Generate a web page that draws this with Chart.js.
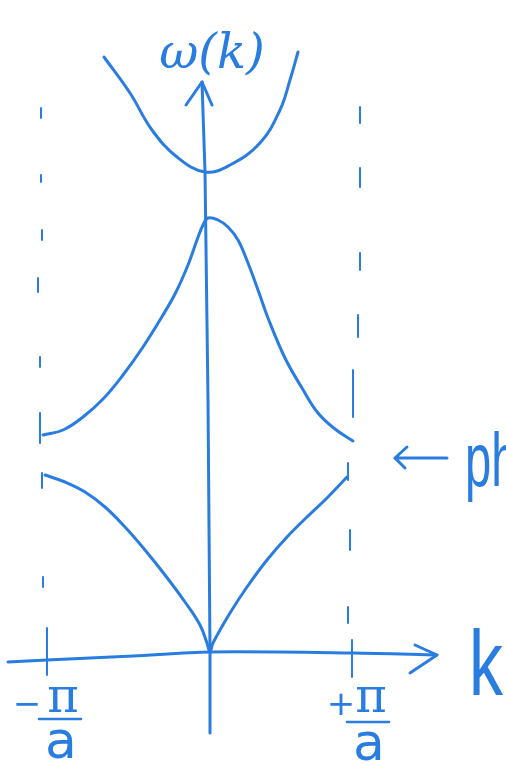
<!DOCTYPE html>
<html>
<head>
<meta charset="utf-8">
<script src="https://cdn.jsdelivr.net/npm/chart.js@4/dist/chart.umd.min.js"></script>
<style>
  html, body { margin: 0; padding: 0; background: #ffffff; }
  #wrap { width: 506px; height: 765px; }
</style>
</head>
<body>
<div id="wrap"><canvas id="disp" width="506" height="765"></canvas></div>
<script>
// Phonon dispersion sketch: omega(k) across the first Brillouin zone.
// k in sketch units (zone edges near -1.65 and +1.43), omega in sketch units.

// upper band, opening upward
const upperK = [-1.03, -0.77, -0.55, -0.30, -0.02, 0.23, 0.53, 0.73, 0.83, 0.91];
const upperW = [ 5.98,  5.62,  5.25,  4.98,  4.83, 4.90, 5.12, 5.45, 5.75, 6.03];

// optical branch, maximum at k = 0
const opticalK = [-1.64, -1.44, -1.24, -1.04, -0.84, -0.64, -0.44, -0.31, -0.19, -0.10, -0.04, 0.01, 0.11, 0.21, 0.31, 0.41, 0.51, 0.61, 0.78, 0.95, 1.11, 1.28, 1.46];
const opticalW = [ 2.20,  2.25,  2.38,  2.56,  2.80,  3.08,  3.40,  3.63,  3.90,  4.15,  4.30, 4.37, 4.35, 4.28, 4.15, 3.92, 3.65, 3.37, 2.97, 2.67, 2.42, 2.26, 2.14];

// acoustic branch, starting at omega = 0 for k = 0
const acousticK = [-1.62, -1.42, -1.22, -1.02, -0.82, -0.62, -0.42, -0.22, -0.07, 0.00, 0.03, 0.06, 0.23, 0.40, 0.60, 0.80, 1.00, 1.20, 1.40];
const acousticW = [ 1.80,  1.73,  1.63,  1.48,  1.28,  1.05,  0.80,  0.53,  0.30, 0.12, 0.03, 0.12, 0.42, 0.68, 0.95, 1.18, 1.38, 1.57, 1.78];

// coordinate axes (hand drawn, slightly curved)
const kAxisK = [-1.99, -1.60, -0.74, 0.03, 1.46, 2.30];
const kAxisW = [-0.07, -0.05, -0.01, 0.03, 0.02, 0.00];
const kArrowK = [2.08, 2.30, 2.03];
const kArrowW = [0.10, 0.00, -0.18];
const wAxisK = [0.03, 0.03, 0.01, -0.02, -0.05];
const wAxisW = [-0.78, 0.03, 2.55, 4.83, 5.73];
const wArrowK = [-0.21, -0.05, 0.05];
const wArrowW = [5.50, 5.73, 5.50];

// zone boundary at -pi/a: dashes as [k, omega top, omega bottom]
const leftEdgeDashes = [
  [-1.66, 5.47, 5.37], [-1.66, 4.80, 4.73], [-1.65, 4.25, 4.15], [-1.69, 3.77, 3.63],
  [-1.67, 2.98, 2.88], [-1.67, 2.42, 2.12], [-1.65, 1.82, 1.67], [-1.64, 0.78, 0.68],
  [-1.60, 0.27, -0.20]
];
// zone boundary at +pi/a
const rightEdgeDashes = [
  [1.53, 5.48, 5.32], [1.53, 4.87, 4.68], [1.53, 4.02, 3.85], [1.51, 3.40, 3.18],
  [1.46, 2.85, 2.38], [1.41, 1.92, 1.75], [1.43, 1.25, 1.05], [1.41, 0.48, 0.32],
  [1.45, 0.15, -0.22]
];

// zone edge positions used for the tick labels
const zoneEdgesK = [-1.65, 1.43];
const zoneEdgeSigns = ['\u2212', '+'];

const BLUE = '#2a7de0';

function pts(ks, ws) { return ks.map((k, i) => ({ x: k, y: ws[i] })); }

function curve(ks, ws, tension, width) {
  return {
    data: pts(ks, ws), showLine: true, pointRadius: 0, borderColor: BLUE,
    borderWidth: width, fill: false, tension: tension,
    borderCapStyle: 'round', borderJoinStyle: 'round'
  };
}

function dashSets(list) {
  return list.map(d => curve([d[0], d[0]], [d[1], d[2]], 0, 2));
}

const datasets = [
  curve(upperK, upperW, 0.4, 3),
  curve(opticalK, opticalW, 0.4, 3),
  curve(acousticK, acousticW, 0.4, 3),
  curve(kAxisK, kAxisW, 0.3, 3),
  curve(kArrowK, kArrowW, 0, 3),
  curve(wAxisK, wAxisW, 0, 3),
  curve(wArrowK, wArrowW, 0, 3),
  ...dashSets(leftEdgeDashes),
  ...dashSets(rightEdgeDashes)
];

// hand-lettered annotations: omega(k), k, the zone edge fractions and the gap note
const labelsPlugin = {
  id: 'sketchLabels',
  afterDraw(chart) {
    const ctx = chart.ctx;
    const sx = chart.scales.x, sy = chart.scales.y;
    const px = v => sx.getPixelForValue(v);
    const py = v => sy.getPixelForValue(v);
    ctx.save();
    ctx.fillStyle = BLUE;
    ctx.strokeStyle = BLUE;
    ctx.lineCap = 'round';
    ctx.textBaseline = 'alphabetic';

    // axis titles
    ctx.textAlign = 'center';
    ctx.font = 'italic 48px "DejaVu Serif"';
    ctx.fillText('\u03c9(k)', px(0.05), py(5.87));
    ctx.textAlign = 'left';
    ctx.save();
    ctx.translate(px(2.62), py(-0.40));
    ctx.scale(0.85, 1.15);
    ctx.font = '80px "Liberation Sans"';
    ctx.fillText('k', 0, 0);
    ctx.restore();

    // -pi/a and +pi/a under the zone edges
    zoneEdgesK.forEach((k, i) => {
      const cx = px(k) + 18;
      const base = py(0) + 57;
      ctx.textAlign = 'center';
      ctx.font = '34px "DejaVu Sans"';
      ctx.fillText(zoneEdgeSigns[i], cx - 33 - (i === 1 ? -6 : 0), base + 3);
      ctx.font = '48px "DejaVu Serif"';
      ctx.fillText('\u03c0', cx + 3, base);
      ctx.lineWidth = 2.5;
      ctx.beginPath();
      ctx.moveTo(cx - 21, base + 7 + i * 3);
      ctx.lineTo(cx + 21, base + 7 + i * 3);
      ctx.stroke();
      ctx.font = '52px "DejaVu Sans"';
      ctx.fillText('a', cx + 1, base + 46 + i * 2);
    });

    // arrow pointing at the gap, followed by the note
    const ay = py(1.97);
    const ax = px(1.88);
    ctx.lineWidth = 3;
    ctx.beginPath();
    ctx.moveTo(ax + 52, ay);
    ctx.lineTo(ax, ay);
    ctx.moveTo(ax + 12, ay - 11);
    ctx.lineTo(ax, ay);
    ctx.lineTo(ax + 10, ay + 10);
    ctx.stroke();
    ctx.save();
    ctx.translate(ax + 70, ay + 28);
    ctx.scale(0.62, 1);
    ctx.textAlign = 'left';
    ctx.font = '76px "Liberation Sans"';
    ctx.fillText('ph', 0, 0);
    ctx.restore();

    ctx.restore();
  }
};

new Chart(document.getElementById('disp'), {
  type: 'scatter',
  data: { datasets: datasets },
  options: {
    responsive: false,
    animation: false,
    layout: { padding: 0 },
    plugins: { legend: { display: false }, tooltip: { enabled: false } },
    scales: {
      x: { type: 'linear', min: -2.07, max: 2.99, display: false },
      y: { type: 'linear', min: -1.10, max: 6.55, display: false }
    }
  },
  plugins: [labelsPlugin]
});
</script>
</body>
</html>
